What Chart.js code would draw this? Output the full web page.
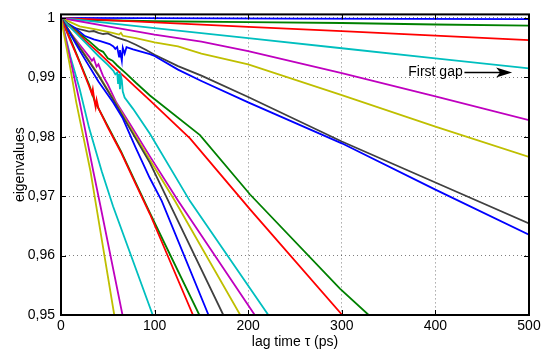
<!DOCTYPE html>
<html>
<head>
<meta charset="utf-8">
<script src="https://cdn.jsdelivr.net/npm/chart.js@4.4.1/dist/chart.umd.min.js"></script>
<style>
  html, body { margin: 0; padding: 0; background: #fff; }
</style>
</head>
<body>
<canvas id="eigChart" width="544" height="349"></canvas>
<script>
// [lag time tau (ps), eigenvalue] pairs, slowest process first
const ev1 = [[0, 1], [250, 0.9999], [500, 0.9998]];
const ev2 = [[0, 1], [20, 0.9997], [100, 0.99945], [200, 0.9993], [300, 0.99915], [400, 0.9989], [500, 0.99872]];
const ev3 = [[0, 1], [100, 0.99925], [200, 0.9985], [300, 0.99777], [400, 0.99703], [500, 0.99628]];
const ev4 = [[0, 1], [100, 0.9983], [200, 0.9966], [300, 0.9949], [400, 0.9932], [500, 0.9915]];
const ev5 = [[0, 1], [50, 0.9986], [100, 0.9972], [150, 0.996], [200, 0.9944], [300, 0.9907], [400, 0.9868], [500, 0.9828]];
const ev6 = [[0, 1], [10, 0.9993], [20, 0.9986], [40, 0.998], [55, 0.9975], [62, 0.9972], [64, 0.9975], [66, 0.997],
  [80, 0.9966], [100, 0.9959], [125, 0.9952], [150, 0.994], [200, 0.9922], [300, 0.987], [400, 0.9817], [500, 0.9766]];
const ev7 = [[0, 1], [5, 0.999], [10, 0.9985], [20, 0.9981], [25, 0.9979], [30, 0.9977], [35, 0.9978], [40, 0.9975],
  [45, 0.9973], [50, 0.9974], [55, 0.997], [60, 0.9967], [70, 0.9962], [80, 0.9955], [90, 0.9947], [100, 0.9938],
  [125, 0.9919], [150, 0.9903], [200, 0.9867], [300, 0.9792], [400, 0.9723], [500, 0.9654]];
const ev8 = [[0, 1], [6, 0.9992], [15, 0.9983], [25, 0.997], [35, 0.9964], [42, 0.9961], [52, 0.9956], [56, 0.9952],
  [58, 0.9948], [60, 0.9951], [62, 0.9935], [63, 0.9946], [65, 0.9928], [66, 0.995], [68, 0.994], [70, 0.9951],
  [77, 0.9947], [95, 0.9939], [100, 0.9936], [125, 0.9913], [150, 0.9894], [200, 0.9858], [300, 0.9789],
  [400, 0.9711], [500, 0.9635]];
const ev9 = [[0, 1], [10, 0.9986], [20, 0.9973], [30, 0.9961], [40, 0.9947], [45, 0.9943], [50, 0.9932], [55, 0.9928],
  [60, 0.992], [70, 0.9906], [80, 0.9891], [95, 0.98695], [148.5, 0.98028], [202, 0.97028], [298, 0.95445], [328.7, 0.95]];
const ev10 = [[0, 1], [10, 0.9985], [20, 0.9971], [30, 0.9956], [40, 0.9942], [50, 0.9927], [60, 0.9912], [70, 0.9898],
  [80, 0.9883], [95, 0.98612], [137.8, 0.97972], [202, 0.96778], [300.5, 0.95]];
const ev11 = [[0, 1], [10, 0.9984], [20, 0.9968], [30, 0.9952], [40, 0.9936], [50, 0.9921], [56, 0.9911], [58, 0.9905],
  [60, 0.9908], [61, 0.9889], [62, 0.9906], [63, 0.988], [64, 0.9902], [65, 0.9895], [66, 0.9876], [68, 0.9866],
  [77, 0.9847], [95, 0.9805], [137.8, 0.96917], [221.5, 0.95]];
const ev12 = [[0, 1], [10, 0.9975], [20, 0.9955], [30, 0.9935], [33, 0.9928], [35, 0.9932], [38, 0.9918], [40, 0.9922],
  [45, 0.9902], [50, 0.9888], [59, 0.9858], [75, 0.9818], [95, 0.9767], [125.3, 0.9692], [207, 0.95]];
const ev13 = [[0, 1], [20, 0.9951], [40, 0.9905], [58, 0.9858], [75, 0.9813], [95, 0.9761], [121.8, 0.9692], [191.5, 0.95]];
const ev14 = [[0, 1], [20, 0.995], [40, 0.9903], [57.4, 0.9858], [75, 0.981], [95, 0.9756], [114.6, 0.9692], [173.4, 0.95]];
const ev15 = [[0, 1], [20, 0.9945], [40, 0.9893], [55.6, 0.9858], [66, 0.9831], [80, 0.9781], [94.7, 0.9731],
  [107.6, 0.9692], [157.6, 0.95]];
const ev16 = [[0, 1], [10, 0.9965], [20, 0.9926], [30, 0.9888], [36, 0.986], [50, 0.9818], [64, 0.9776], [80, 0.9722],
  [95, 0.9672], [109.3, 0.9625], [147.8, 0.95]];
const ev17 = [[0, 1], [10, 0.9962], [20, 0.9925], [30, 0.9885], [33, 0.9872], [34, 0.988], [36, 0.9858], [37, 0.985],
  [38, 0.9862], [40, 0.9848], [50, 0.9816], [64, 0.9774], [80, 0.972], [95, 0.967], [141, 0.95]];
const ev18 = [[0, 1], [10, 0.9935], [20, 0.988], [30, 0.9815], [43.5, 0.9742], [55.6, 0.9683], [98, 0.95]];
const ev19 = [[0, 1], [10, 0.993], [20, 0.9858], [34.5, 0.9742], [42.2, 0.9683], [65.7, 0.95]];
const ev20 = [[0, 1], [10, 0.9915], [16.3, 0.9858], [31.5, 0.9742], [37.7, 0.9683], [56.9, 0.95]];

const xTicks = [0, 100, 200, 300, 400, 500];
const yTicks = [0.95, 0.96, 0.97, 0.98, 0.99, 1];

const series = [ev1, ev2, ev3, ev4, ev5, ev6, ev7, ev8, ev9, ev10,
  ev11, ev12, ev13, ev14, ev15, ev16, ev17, ev18, ev19, ev20];

// old matlab colour order
const palette = ["#0000ff", "#008000", "#ff0000", "#00bfbf", "#bf00bf", "#bfbf00", "#404040"];

// "First gap" note, in data units
const gapNote = { text: "First gap", tau: 371, value: 0.99083, arrowFrom: 431, arrowTo: 482 };

const FONT = "'Liberation Sans', Arial, Helvetica, sans-serif";

const frame = {
  id: "frame",
  afterDatasetsDraw(chart) {
    const { ctx, chartArea: a, scales: { x, y } } = chart;
    ctx.save();

    // matlab style inward ticks on all four sides
    ctx.strokeStyle = "#000";
    ctx.lineWidth = 1;
    ctx.beginPath();
    xTicks.forEach(function (v) {
      const px = Math.round(x.getPixelForValue(v)) + 0.5;
      ctx.moveTo(px, a.bottom); ctx.lineTo(px, a.bottom - 5);
      ctx.moveTo(px, a.top); ctx.lineTo(px, a.top + 5);
    });
    yTicks.forEach(function (v) {
      const py = Math.round(y.getPixelForValue(v)) + 0.5;
      ctx.moveTo(a.left, py); ctx.lineTo(a.left + 5, py);
      ctx.moveTo(a.right, py); ctx.lineTo(a.right - 5, py);
    });
    ctx.stroke();

    ctx.lineWidth = 2;
    ctx.strokeRect(a.left, a.top, a.right - a.left, a.bottom - a.top);

    // annotation
    const ty = y.getPixelForValue(gapNote.value);
    ctx.fillStyle = "#000";
    ctx.font = "14px " + FONT;
    ctx.textBaseline = "middle";
    ctx.textAlign = "left";
    ctx.fillText(gapNote.text, x.getPixelForValue(gapNote.tau), ty);

    const x0 = x.getPixelForValue(gapNote.arrowFrom);
    const x1 = x.getPixelForValue(gapNote.arrowTo);
    ctx.lineWidth = 1.5;
    ctx.beginPath();
    ctx.moveTo(x0, ty);
    ctx.lineTo(x1 - 8, ty);
    ctx.stroke();
    ctx.beginPath();
    ctx.moveTo(x1, ty);
    ctx.lineTo(x1 - 16, ty - 5);
    ctx.lineTo(x1 - 12, ty);
    ctx.lineTo(x1 - 16, ty + 5);
    ctx.closePath();
    ctx.fill();

    ctx.restore();
  }
};

const ctx = document.getElementById("eigChart").getContext("2d");
new Chart(ctx, {
  type: "line",
  data: {
    datasets: series.map(function (s, i) {
      return {
        data: s.map(function (p) { return { x: p[0], y: p[1] }; }),
        borderColor: palette[i % palette.length],
        borderWidth: 1.8,
        pointRadius: 0,
        fill: false,
        tension: 0,
        order: series.length - i
      };
    })
  },
  options: {
    responsive: false,
    animation: false,
    layout: { padding: { top: 11, right: 15, bottom: 0, left: 0 } },
    plugins: {
      legend: { display: false },
      tooltip: { enabled: false }
    },
    scales: {
      x: {
        type: "linear",
        min: 0,
        max: 500,
        afterBuildTicks: function (s) { s.ticks = xTicks.map(function (v) { return { value: v }; }); },
        afterFit: function (s) { s.height = 34; },
        border: { display: false, dash: [1, 3] },
        grid: { color: "rgba(0,0,0,0.5)", lineWidth: 1, drawTicks: false },
        ticks: {
          autoSkip: false,
          maxRotation: 0,
          padding: 3,
          color: "#000",
          font: { family: FONT, size: 14 }
        },
        title: {
          display: true,
          text: "lag time τ (ps)",
          color: "#000",
          font: { family: FONT, size: 14, lineHeight: 1 },
          padding: { top: 0, bottom: 0 }
        }
      },
      y: {
        type: "linear",
        min: 0.95,
        max: 1.0006,
        afterBuildTicks: function (s) { s.ticks = yTicks.map(function (v) { return { value: v }; }); },
        afterFit: function (s) { s.width = 61; },
        border: { display: false, dash: [1, 3] },
        grid: { color: "rgba(0,0,0,0.5)", lineWidth: 1, drawTicks: false },
        ticks: {
          padding: 6,
          color: "#000",
          font: { family: FONT, size: 14 },
          callback: function (v) { return v === 1 ? "1" : v.toFixed(2).replace(".", ","); }
        },
        title: {
          display: true,
          text: "eigenvalues",
          color: "#000",
          font: { family: FONT, size: 14, lineHeight: 1 },
          padding: { top: 13, bottom: 0 }
        }
      }
    }
  },
  plugins: [frame]
});
</script>
</body>
</html>
